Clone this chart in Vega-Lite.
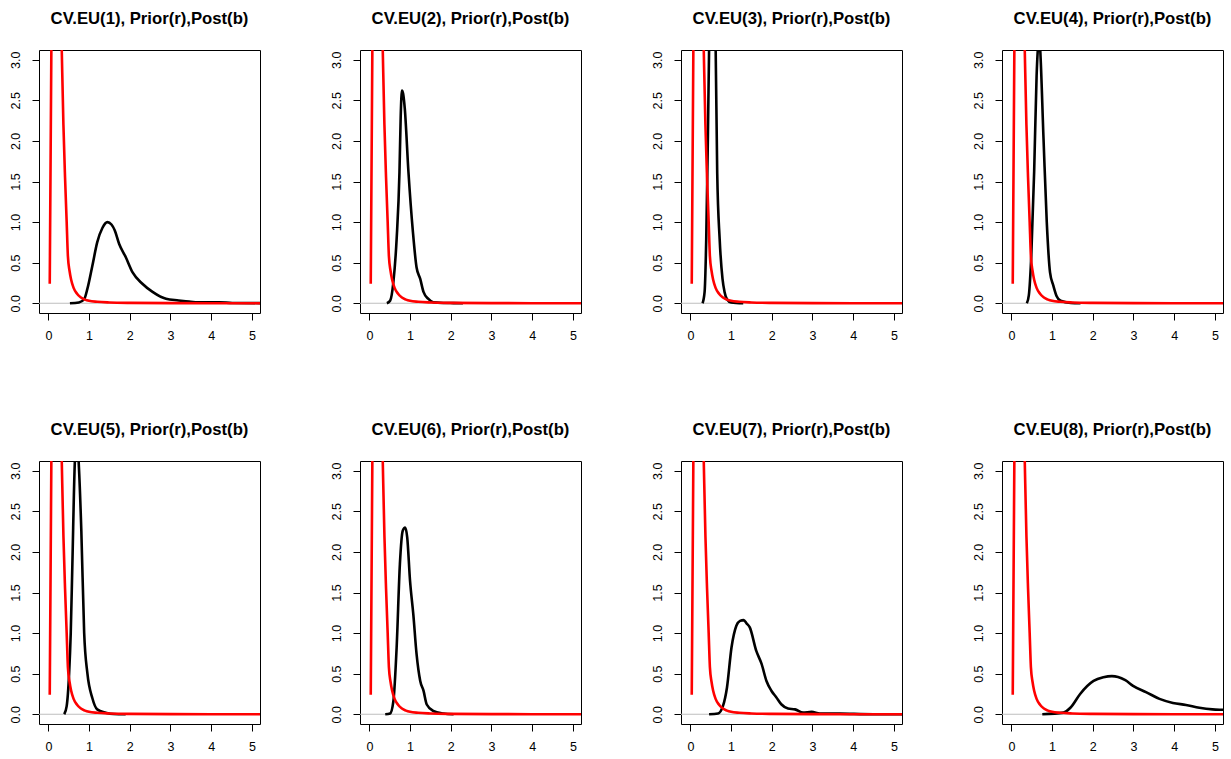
{
  "$schema": "https://vega.github.io/schema/vega-lite/v6.json",
  "background": "white",
  "padding": {"left": 8, "top": 10, "right": 5, "bottom": 5},
  "bounds": "flush",
  "columns": 4,
  "spacing": {"row": 148, "column": 100},
  "datasets": {
    "zero": [{"x": -1, "y": 0}, {"x": 6, "y": 0}],
    "prior": [
      {"x": 0.034, "y": 0.24}, {"x": 0.08, "y": 3.6}, {"x": 0.12, "y": 9}, {"x": 0.16, "y": 10}, {"x": 0.2, "y": 8.5},
      {"x": 0.25, "y": 6}, {"x": 0.3, "y": 3.8}, {"x": 0.33, "y": 3.1}, {"x": 0.37, "y": 2.2}, {"x": 0.41, "y": 1.55},
      {"x": 0.45, "y": 1.0}, {"x": 0.48, "y": 0.58}, {"x": 0.52, "y": 0.4}, {"x": 0.56, "y": 0.29}, {"x": 0.62, "y": 0.19},
      {"x": 0.7, "y": 0.12}, {"x": 0.8, "y": 0.07}, {"x": 0.9, "y": 0.045}, {"x": 1.0, "y": 0.03}, {"x": 1.2, "y": 0.018},
      {"x": 1.5, "y": 0.01}, {"x": 2.0, "y": 0.005}, {"x": 3.0, "y": 0.002}, {"x": 4.0, "y": 0.001}, {"x": 5.5, "y": 0.0005}
    ],
    "post": [
      {"panel": 1, "x": 0.53, "y": 0}, {"panel": 1, "x": 0.75, "y": 0.01}, {"panel": 1, "x": 0.88, "y": 0.05}, {"panel": 1, "x": 0.96, "y": 0.18},
      {"panel": 1, "x": 1.08, "y": 0.46}, {"panel": 1, "x": 1.2, "y": 0.75}, {"panel": 1, "x": 1.33, "y": 0.93}, {"panel": 1, "x": 1.45, "y": 1.0},
      {"panel": 1, "x": 1.55, "y": 0.97}, {"panel": 1, "x": 1.63, "y": 0.9}, {"panel": 1, "x": 1.74, "y": 0.73}, {"panel": 1, "x": 1.9, "y": 0.57},
      {"panel": 1, "x": 2.07, "y": 0.38}, {"panel": 1, "x": 2.31, "y": 0.24}, {"panel": 1, "x": 2.56, "y": 0.14}, {"panel": 1, "x": 2.89, "y": 0.055},
      {"panel": 1, "x": 3.2, "y": 0.035}, {"panel": 1, "x": 3.46, "y": 0.02}, {"panel": 1, "x": 3.7, "y": 0.012}, {"panel": 1, "x": 4.2, "y": 0.012},
      {"panel": 1, "x": 4.52, "y": 0.004}, {"panel": 1, "x": 5.5, "y": 0.001},

      {"panel": 2, "x": 0.43, "y": 0}, {"panel": 2, "x": 0.51, "y": 0.03}, {"panel": 2, "x": 0.59, "y": 0.26}, {"panel": 2, "x": 0.67, "y": 0.79},
      {"panel": 2, "x": 0.74, "y": 1.62}, {"panel": 2, "x": 0.77, "y": 2.3}, {"panel": 2, "x": 0.8, "y": 2.62}, {"panel": 2, "x": 0.83, "y": 2.58},
      {"panel": 2, "x": 0.87, "y": 2.4}, {"panel": 2, "x": 0.96, "y": 1.62}, {"panel": 2, "x": 1.07, "y": 0.88}, {"panel": 2, "x": 1.16, "y": 0.44},
      {"panel": 2, "x": 1.25, "y": 0.3}, {"panel": 2, "x": 1.33, "y": 0.14}, {"panel": 2, "x": 1.45, "y": 0.053}, {"panel": 2, "x": 1.57, "y": 0.012},
      {"panel": 2, "x": 1.82, "y": 0.004}, {"panel": 2, "x": 2.07, "y": 0.002}, {"panel": 2, "x": 2.3, "y": 0},

      {"panel": 3, "x": 0.3, "y": 0}, {"panel": 3, "x": 0.35, "y": 0.14}, {"panel": 3, "x": 0.39, "y": 0.79}, {"panel": 3, "x": 0.43, "y": 2.03},
      {"panel": 3, "x": 0.46, "y": 3.12}, {"panel": 3, "x": 0.49, "y": 3.9}, {"panel": 3, "x": 0.54, "y": 4.3}, {"panel": 3, "x": 0.59, "y": 3.9},
      {"panel": 3, "x": 0.62, "y": 3.2}, {"panel": 3, "x": 0.66, "y": 1.6}, {"panel": 3, "x": 0.72, "y": 0.79}, {"panel": 3, "x": 0.79, "y": 0.3},
      {"panel": 3, "x": 0.84, "y": 0.14}, {"panel": 3, "x": 0.9, "y": 0.05}, {"panel": 3, "x": 1.0, "y": 0.01}, {"panel": 3, "x": 1.3, "y": 0},

      {"panel": 4, "x": 0.38, "y": 0}, {"panel": 4, "x": 0.43, "y": 0.1}, {"panel": 4, "x": 0.49, "y": 0.59}, {"panel": 4, "x": 0.56, "y": 1.62},
      {"panel": 4, "x": 0.62, "y": 2.8}, {"panel": 4, "x": 0.66, "y": 3.2}, {"panel": 4, "x": 0.68, "y": 3.3}, {"panel": 4, "x": 0.7, "y": 3.2},
      {"panel": 4, "x": 0.79, "y": 2.03}, {"panel": 4, "x": 0.87, "y": 1.0}, {"panel": 4, "x": 0.95, "y": 0.38}, {"panel": 4, "x": 1.03, "y": 0.22},
      {"panel": 4, "x": 1.11, "y": 0.09}, {"panel": 4, "x": 1.21, "y": 0.03}, {"panel": 4, "x": 1.46, "y": 0.004}, {"panel": 4, "x": 1.7, "y": 0},

      {"panel": 5, "x": 0.39, "y": 0}, {"panel": 5, "x": 0.45, "y": 0.1}, {"panel": 5, "x": 0.51, "y": 0.5}, {"panel": 5, "x": 0.55, "y": 1.0},
      {"panel": 5, "x": 0.59, "y": 1.85}, {"panel": 5, "x": 0.65, "y": 3.1}, {"panel": 5, "x": 0.7, "y": 3.4}, {"panel": 5, "x": 0.74, "y": 3.15},
      {"panel": 5, "x": 0.81, "y": 2.26}, {"panel": 5, "x": 0.88, "y": 1.0}, {"panel": 5, "x": 0.96, "y": 0.5}, {"panel": 5, "x": 1.08, "y": 0.2},
      {"panel": 5, "x": 1.2, "y": 0.06}, {"panel": 5, "x": 1.41, "y": 0.02}, {"panel": 5, "x": 1.6, "y": 0.003}, {"panel": 5, "x": 1.9, "y": 0},

      {"panel": 6, "x": 0.39, "y": 0}, {"panel": 6, "x": 0.51, "y": 0.01}, {"panel": 6, "x": 0.59, "y": 0.16}, {"panel": 6, "x": 0.67, "y": 0.82},
      {"panel": 6, "x": 0.75, "y": 1.85}, {"panel": 6, "x": 0.82, "y": 2.26}, {"panel": 6, "x": 0.88, "y": 2.3}, {"panel": 6, "x": 0.93, "y": 2.18},
      {"panel": 6, "x": 1.0, "y": 1.64}, {"panel": 6, "x": 1.08, "y": 1.23}, {"panel": 6, "x": 1.16, "y": 0.74}, {"panel": 6, "x": 1.25, "y": 0.41},
      {"panel": 6, "x": 1.33, "y": 0.29}, {"panel": 6, "x": 1.41, "y": 0.12}, {"panel": 6, "x": 1.57, "y": 0.04}, {"panel": 6, "x": 1.82, "y": 0.01},
      {"panel": 6, "x": 2.07, "y": 0},

      {"panel": 7, "x": 0.46, "y": 0}, {"panel": 7, "x": 0.68, "y": 0.01}, {"panel": 7, "x": 0.8, "y": 0.1}, {"panel": 7, "x": 0.9, "y": 0.33},
      {"panel": 7, "x": 1.01, "y": 0.82}, {"panel": 7, "x": 1.13, "y": 1.09}, {"panel": 7, "x": 1.22, "y": 1.15}, {"panel": 7, "x": 1.31, "y": 1.16},
      {"panel": 7, "x": 1.38, "y": 1.12}, {"panel": 7, "x": 1.46, "y": 1.07}, {"panel": 7, "x": 1.62, "y": 0.78}, {"panel": 7, "x": 1.75, "y": 0.62},
      {"panel": 7, "x": 1.87, "y": 0.41}, {"panel": 7, "x": 1.99, "y": 0.29}, {"panel": 7, "x": 2.11, "y": 0.21}, {"panel": 7, "x": 2.24, "y": 0.12},
      {"panel": 7, "x": 2.4, "y": 0.07}, {"panel": 7, "x": 2.57, "y": 0.06}, {"panel": 7, "x": 2.77, "y": 0.02}, {"panel": 7, "x": 2.98, "y": 0.03},
      {"panel": 7, "x": 3.18, "y": 0.01}, {"panel": 7, "x": 3.67, "y": 0.008}, {"panel": 7, "x": 4.5, "y": 0}, {"panel": 7, "x": 5.5, "y": 0},

      {"panel": 8, "x": 0.76, "y": 0}, {"panel": 8, "x": 1.28, "y": 0.02}, {"panel": 8, "x": 1.45, "y": 0.08}, {"panel": 8, "x": 1.69, "y": 0.25},
      {"panel": 8, "x": 2.02, "y": 0.41}, {"panel": 8, "x": 2.26, "y": 0.455}, {"panel": 8, "x": 2.47, "y": 0.47}, {"panel": 8, "x": 2.62, "y": 0.46},
      {"panel": 8, "x": 2.8, "y": 0.42}, {"panel": 8, "x": 2.99, "y": 0.35}, {"panel": 8, "x": 3.32, "y": 0.27}, {"panel": 8, "x": 3.64, "y": 0.19},
      {"panel": 8, "x": 3.97, "y": 0.14}, {"panel": 8, "x": 4.29, "y": 0.115}, {"panel": 8, "x": 4.62, "y": 0.08}, {"panel": 8, "x": 4.94, "y": 0.06},
      {"panel": 8, "x": 5.19, "y": 0.055}, {"panel": 8, "x": 5.5, "y": 0.05}
    ]
  },
  "concat": [
    {"title": "CV.EU(1), Prior(r),Post(b)", "width": 221, "height": 263,
     "encoding": {"x": {"field": "x", "type": "quantitative", "scale": {"domain": [-0.23, 5.2], "nice": false, "zero": false}, "axis": {"values": [0,1,2,3,4,5], "format": "d", "title": null}},
                  "y": {"field": "y", "type": "quantitative", "scale": {"domain": [-0.12, 3.12], "nice": false, "zero": false}, "axis": {"values": [0,0.5,1,1.5,2,2.5,3], "format": ".1f", "title": null}}},
     "layer": [
       {"data": {"name": "zero"}, "mark": {"type": "line", "color": "#bebebe", "strokeWidth": 1, "clip": true}},
       {"data": {"name": "post"}, "transform": [{"filter": "datum.panel == 1"}], "mark": {"type": "line", "color": "black", "strokeWidth": 2.6, "clip": true, "interpolate": "monotone"}},
       {"data": {"name": "prior"}, "mark": {"type": "line", "color": "#ff0000", "strokeWidth": 2.6, "clip": true, "interpolate": "monotone"}}
     ]},
    {"title": "CV.EU(2), Prior(r),Post(b)", "width": 221, "height": 263,
     "encoding": {"x": {"field": "x", "type": "quantitative", "scale": {"domain": [-0.23, 5.2], "nice": false, "zero": false}, "axis": {"values": [0,1,2,3,4,5], "format": "d", "title": null}},
                  "y": {"field": "y", "type": "quantitative", "scale": {"domain": [-0.12, 3.12], "nice": false, "zero": false}, "axis": {"values": [0,0.5,1,1.5,2,2.5,3], "format": ".1f", "title": null}}},
     "layer": [
       {"data": {"name": "zero"}, "mark": {"type": "line", "color": "#bebebe", "strokeWidth": 1, "clip": true}},
       {"data": {"name": "post"}, "transform": [{"filter": "datum.panel == 2"}], "mark": {"type": "line", "color": "black", "strokeWidth": 2.6, "clip": true, "interpolate": "monotone"}},
       {"data": {"name": "prior"}, "mark": {"type": "line", "color": "#ff0000", "strokeWidth": 2.6, "clip": true, "interpolate": "monotone"}}
     ]},
    {"title": "CV.EU(3), Prior(r),Post(b)", "width": 221, "height": 263,
     "encoding": {"x": {"field": "x", "type": "quantitative", "scale": {"domain": [-0.23, 5.2], "nice": false, "zero": false}, "axis": {"values": [0,1,2,3,4,5], "format": "d", "title": null}},
                  "y": {"field": "y", "type": "quantitative", "scale": {"domain": [-0.12, 3.12], "nice": false, "zero": false}, "axis": {"values": [0,0.5,1,1.5,2,2.5,3], "format": ".1f", "title": null}}},
     "layer": [
       {"data": {"name": "zero"}, "mark": {"type": "line", "color": "#bebebe", "strokeWidth": 1, "clip": true}},
       {"data": {"name": "post"}, "transform": [{"filter": "datum.panel == 3"}], "mark": {"type": "line", "color": "black", "strokeWidth": 2.6, "clip": true, "interpolate": "monotone"}},
       {"data": {"name": "prior"}, "mark": {"type": "line", "color": "#ff0000", "strokeWidth": 2.6, "clip": true, "interpolate": "monotone"}}
     ]},
    {"title": "CV.EU(4), Prior(r),Post(b)", "width": 221, "height": 263,
     "encoding": {"x": {"field": "x", "type": "quantitative", "scale": {"domain": [-0.23, 5.2], "nice": false, "zero": false}, "axis": {"values": [0,1,2,3,4,5], "format": "d", "title": null}},
                  "y": {"field": "y", "type": "quantitative", "scale": {"domain": [-0.12, 3.12], "nice": false, "zero": false}, "axis": {"values": [0,0.5,1,1.5,2,2.5,3], "format": ".1f", "title": null}}},
     "layer": [
       {"data": {"name": "zero"}, "mark": {"type": "line", "color": "#bebebe", "strokeWidth": 1, "clip": true}},
       {"data": {"name": "post"}, "transform": [{"filter": "datum.panel == 4"}], "mark": {"type": "line", "color": "black", "strokeWidth": 2.6, "clip": true, "interpolate": "monotone"}},
       {"data": {"name": "prior"}, "mark": {"type": "line", "color": "#ff0000", "strokeWidth": 2.6, "clip": true, "interpolate": "monotone"}}
     ]},
    {"title": "CV.EU(5), Prior(r),Post(b)", "width": 221, "height": 263,
     "encoding": {"x": {"field": "x", "type": "quantitative", "scale": {"domain": [-0.23, 5.2], "nice": false, "zero": false}, "axis": {"values": [0,1,2,3,4,5], "format": "d", "title": null}},
                  "y": {"field": "y", "type": "quantitative", "scale": {"domain": [-0.12, 3.12], "nice": false, "zero": false}, "axis": {"values": [0,0.5,1,1.5,2,2.5,3], "format": ".1f", "title": null}}},
     "layer": [
       {"data": {"name": "zero"}, "mark": {"type": "line", "color": "#bebebe", "strokeWidth": 1, "clip": true}},
       {"data": {"name": "post"}, "transform": [{"filter": "datum.panel == 5"}], "mark": {"type": "line", "color": "black", "strokeWidth": 2.6, "clip": true, "interpolate": "monotone"}},
       {"data": {"name": "prior"}, "mark": {"type": "line", "color": "#ff0000", "strokeWidth": 2.6, "clip": true, "interpolate": "monotone"}}
     ]},
    {"title": "CV.EU(6), Prior(r),Post(b)", "width": 221, "height": 263,
     "encoding": {"x": {"field": "x", "type": "quantitative", "scale": {"domain": [-0.23, 5.2], "nice": false, "zero": false}, "axis": {"values": [0,1,2,3,4,5], "format": "d", "title": null}},
                  "y": {"field": "y", "type": "quantitative", "scale": {"domain": [-0.12, 3.12], "nice": false, "zero": false}, "axis": {"values": [0,0.5,1,1.5,2,2.5,3], "format": ".1f", "title": null}}},
     "layer": [
       {"data": {"name": "zero"}, "mark": {"type": "line", "color": "#bebebe", "strokeWidth": 1, "clip": true}},
       {"data": {"name": "post"}, "transform": [{"filter": "datum.panel == 6"}], "mark": {"type": "line", "color": "black", "strokeWidth": 2.6, "clip": true, "interpolate": "monotone"}},
       {"data": {"name": "prior"}, "mark": {"type": "line", "color": "#ff0000", "strokeWidth": 2.6, "clip": true, "interpolate": "monotone"}}
     ]},
    {"title": "CV.EU(7), Prior(r),Post(b)", "width": 221, "height": 263,
     "encoding": {"x": {"field": "x", "type": "quantitative", "scale": {"domain": [-0.23, 5.2], "nice": false, "zero": false}, "axis": {"values": [0,1,2,3,4,5], "format": "d", "title": null}},
                  "y": {"field": "y", "type": "quantitative", "scale": {"domain": [-0.12, 3.12], "nice": false, "zero": false}, "axis": {"values": [0,0.5,1,1.5,2,2.5,3], "format": ".1f", "title": null}}},
     "layer": [
       {"data": {"name": "zero"}, "mark": {"type": "line", "color": "#bebebe", "strokeWidth": 1, "clip": true}},
       {"data": {"name": "post"}, "transform": [{"filter": "datum.panel == 7"}], "mark": {"type": "line", "color": "black", "strokeWidth": 2.6, "clip": true, "interpolate": "monotone"}},
       {"data": {"name": "prior"}, "mark": {"type": "line", "color": "#ff0000", "strokeWidth": 2.6, "clip": true, "interpolate": "monotone"}}
     ]},
    {"title": "CV.EU(8), Prior(r),Post(b)", "width": 221, "height": 263,
     "encoding": {"x": {"field": "x", "type": "quantitative", "scale": {"domain": [-0.23, 5.2], "nice": false, "zero": false}, "axis": {"values": [0,1,2,3,4,5], "format": "d", "title": null}},
                  "y": {"field": "y", "type": "quantitative", "scale": {"domain": [-0.12, 3.12], "nice": false, "zero": false}, "axis": {"values": [0,0.5,1,1.5,2,2.5,3], "format": ".1f", "title": null}}},
     "layer": [
       {"data": {"name": "zero"}, "mark": {"type": "line", "color": "#bebebe", "strokeWidth": 1, "clip": true}},
       {"data": {"name": "post"}, "transform": [{"filter": "datum.panel == 8"}], "mark": {"type": "line", "color": "black", "strokeWidth": 2.6, "clip": true, "interpolate": "monotone"}},
       {"data": {"name": "prior"}, "mark": {"type": "line", "color": "#ff0000", "strokeWidth": 2.6, "clip": true, "interpolate": "monotone"}}
     ]}
  ],
  "config": {
    "view": {"stroke": "black", "strokeWidth": 1},
    "axis": {"grid": false, "domain": false, "ticks": true, "tickColor": "black", "tickSize": 7, "tickWidth": 1,
             "labelFont": "Liberation Sans", "labelFontSize": 12.5, "labelColor": "black"},
    "axisX": {"labelPadding": 9},
    "axisY": {"labelAngle": -90, "labelAlign": "center", "labelBaseline": "bottom", "labelPadding": 10},
    "title": {"font": "Liberation Sans", "fontSize": 16.7, "fontWeight": "bold", "color": "black", "anchor": "middle", "offset": 22},
    "style": {"group-title": {"font": "Liberation Sans", "fontSize": 16.7, "fontWeight": "bold", "fill": "black"}}
  }
}
